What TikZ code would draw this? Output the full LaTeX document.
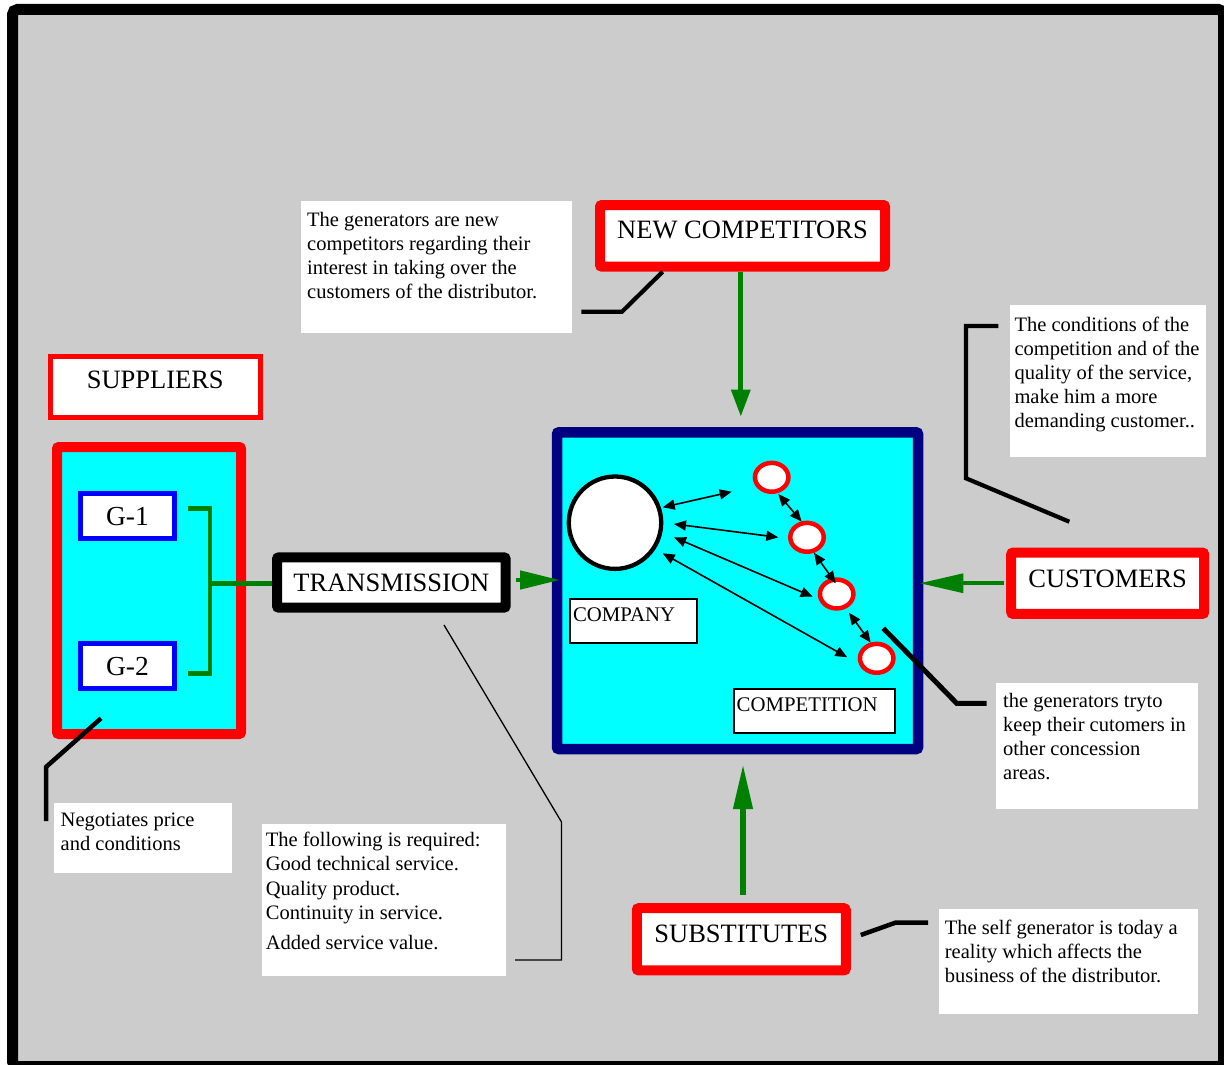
\documentclass[tikz,border=0pt]{standalone}
\usepackage{fontspec}
\setmainfont{Liberation Serif}
\usetikzlibrary{arrows.meta,shapes.geometric,calc}
\definecolor{bggray}{HTML}{CCCCCC}
\definecolor{cy}{HTML}{00FFFF}
\definecolor{navyb}{HTML}{000080}
\definecolor{gr}{HTML}{008000}
\definecolor{rd}{HTML}{FF0000}
\definecolor{bl}{HTML}{0000FF}
\begin{document}
\begin{tikzpicture}[x=1pt,y=-1pt,
  head/.style={font=\fontsize{26.5}{30}\selectfont, inner sep=0pt, anchor=base},
  redbox/.style={draw=rd, line width=10pt, fill=white, rounded corners=2pt},
  gbox/.style={draw=bl, line width=5pt, fill=white, inner sep=0pt, anchor=base,
    font=\fontsize{27.5}{30}\selectfont, minimum width=93.8pt},
  lab/.style={draw=black, line width=2pt, fill=white, anchor=base west,
    inner xsep=3pt, inner ysep=0pt, font=\fontsize{20.8}{24}\selectfont},
  body/.style={font=\fontsize{20.5}{24.2}\selectfont, inner sep=0pt, anchor=base west},
  note/.style={fill=white, inner sep=0pt, anchor=north west},
  callout/.style={draw=black, line width=4.2pt},
  gline/.style={draw=gr, line width=4.5pt},
  darrow/.style={draw=black, line width=1.6pt,
    {Triangle[length=12pt,width=10pt]}-{Triangle[length=12pt,width=10pt]}},
]
\useasboundingbox (0,0) rectangle (1224,1065);
% frame
\draw[line width=11pt, fill=bggray, rounded corners=5pt] (12.5,9.5) rectangle (1223.5,1066.5);

% ---------- text boxes ----------
\node[note, minimum width=270.4pt, minimum height=131.7pt] (t1) at (301,201) {};
\node[body] (t1x) at (307,226) {\parbox[t]{260pt}{\raggedright The generators are new\\competitors regarding their\\interest in taking over the\\customers of the distributor.}};

\node[note, minimum width=196.4pt, minimum height=151.7pt] (t2) at (1009.3,305) {};
\node[body] (t2x) at (1014.3,331) {\parbox[t]{190pt}{\raggedright The conditions of the\\competition and of the\\quality of the service,\\make him a more\\demanding customer..}};

\node[note, minimum width=201.7pt, minimum height=126pt] (t3) at (996,683) {};
\node[body, font=\fontsize{20.5}{24.3}\selectfont] (t3x) at (1003,707) {\parbox[t]{194pt}{\raggedright the generators tryto\\keep their cutomers in\\other concession\\areas.}};

\node[note, minimum width=258.8pt, minimum height=105pt] (t4) at (939,909) {};
\node[body] (t4x) at (944.7,934) {\parbox[t]{252pt}{\raggedright The self generator is today a\\reality which affects the\\business of the distributor.}};

\node[note, minimum width=178pt, minimum height=70pt] (t5) at (54,803) {};
\node[body] (t5x) at (60.5,826.7) {\parbox[t]{170pt}{\raggedright Negotiates price\\and conditions}};

\node[note, minimum width=244pt, minimum height=151.7pt] (t6) at (262,824) {};
\node[body] (t6x) at (265.7,846.7) {\parbox[t]{238pt}{\raggedright The following is required:\\Good technical service.\\Quality product.\\Continuity in service.\\[5.8pt]Added service value.}};

% ---------- suppliers ----------
\node[head, draw=rd, line width=4.6pt, fill=white, minimum width=209.9pt,
  text height=31.7pt, text depth=29.7pt] (supl) at (155.25,388) {SUPPLIERS};
\node[draw=rd, line width=10pt, fill=cy, rounded corners=2pt, inner sep=0pt,
  minimum width=184pt, minimum height=287pt] (supbox) at (149,590.5) {};
\node[gbox, text height=31.8pt, text depth=13.5pt] (g1) at (127.4,525) {G-1};
\node[gbox, text height=31.5pt, text depth=13.5pt] (g2) at (127.4,675) {G-2};

% ---------- transmission ----------
\node[head, draw=black, line width=10pt, fill=white, rounded corners=2pt,
  minimum width=228.7pt, text height=34.4pt, text depth=16pt] (trans) at (391.35,591.7) {TRANSMISSION};

% bracket from G-1 / G-2 to transmission
\draw[gline] ([xshift=10.7pt,yshift=7.5pt]g1.east) -- ++(22.5,0) coordinate (bj)
  |- ([xshift=10.7pt,yshift=-7.3pt]g2.east);
\draw[gline] (bj |- 0,583.3) -- (trans.west |- 0,583.3);

% ---------- company ----------
\node[draw=navyb, line width=10.5pt, fill=cy, rounded corners=2pt, inner sep=0pt,
  minimum width=361pt, minimum height=316.7pt] (comp) at (737.5,590.7) {};
\node[circle, draw=black, line width=4.3pt, fill=white, minimum size=92.4pt, inner sep=0pt] (ccirc) at (615,522.7) {};
\foreach \n/\px/\py in {e1/771.7/477.3, e2/807/537.3, e3/836.7/594, e4/876.7/658.3}
  \node[ellipse, draw=rd, line width=4.5pt, fill=white, minimum width=33.5pt,
    minimum height=28.9pt, inner sep=0pt] (\n) at (\px,\py) {};
\node[lab, text height=22pt, text depth=22pt] (clab) at (569,621) {\makebox[121pt][l]{COMPANY}};
\node[lab, text height=22.7pt, text depth=21.6pt] (cplab) at (732.7,711.7) {\makebox[155.3pt][l]{COMPETITION}};

% double arrows
\coordinate (a1s) at (662.7,507.3); \coordinate (a1e) at (731.7,491.7);
\coordinate (a2s) at (674,524);     \coordinate (a2e) at (778.3,537.3);
\coordinate (a3s) at (674,537.3);   \coordinate (a3e) at (812.7,596.7);
\coordinate (a4s) at (662.7,553.3); \coordinate (a4e) at (847.3,657.3);
\coordinate (b1s) at (778.3,494);   \coordinate (b1e) at (801.7,521.7);
\coordinate (b2s) at (814,552.7);   \coordinate (b2e) at (835.7,583.3);
\coordinate (b3s) at (849,612.7);   \coordinate (b3e) at (870.7,642.7);
\foreach \a in {a1,a2,a3,a4,b1,b2,b3}
  \draw[darrow] (\a s) -- (\a e);

% ---------- outer forces ----------
\node[head, redbox, minimum width=285pt, text height=33.3pt, text depth=28.4pt] (newc) at (742.5,238.3) {NEW COMPETITORS};
\node[head, redbox, minimum width=193pt, text height=34.4pt, text depth=26.9pt] (cust) at (1107.7,587) {CUSTOMERS};
\node[head, redbox, minimum width=209pt, text height=34.1pt, text depth=28.1pt] (subs) at (741.3,942.3) {SUBSTITUTES};

% green arrows
\draw[gline, line width=5pt, -{Triangle[length=27pt,width=18.4pt]}]
  ([xshift=-1.7pt]newc.south) -- ([xshift=-1.7pt]newc.south |- 0,416.7);
\draw[gline, line width=6pt, shorten <=8.2pt, -{Triangle[length=45pt,width=18.4pt]}]
  ([xshift=1.7pt]subs.north) -- ([xshift=1.7pt]subs.north |- 0,764);
\draw[gline, line width=4.3pt, shorten <=2pt, -{Triangle[length=44pt,width=18.6pt]}]
  (cust.west) -- (919.3,0 |- cust.west);
\draw[gline, shorten <=5pt, -{Triangle[length=40pt,width=18pt]}]
  (trans.east |- 0,580) -- (560,580);

% ---------- callout lines ----------
\draw[callout] (662.7,0 |- newc.south) -- (622,311.7) -- (581.3,311.7);
\draw[callout, line width=4.5pt] (101,718.3) -- (46,767) -- (46,821);
\draw[black, line width=1.3pt] (444,625) -- (561.5,822) -- (561.5,960) -- (515,960);
\draw[callout] (1069.3,521.7) -- (966,478.3) -- (966,326) -- (998.3,326);
\draw[callout, line width=5pt] (883.3,628.3) -- (956.7,703.3) -- (986.7,703.3);
\draw[callout, line width=4.5pt] (860.8,935) -- (895.4,922.7) -- (928,922.7);
\end{tikzpicture}
\end{document}
